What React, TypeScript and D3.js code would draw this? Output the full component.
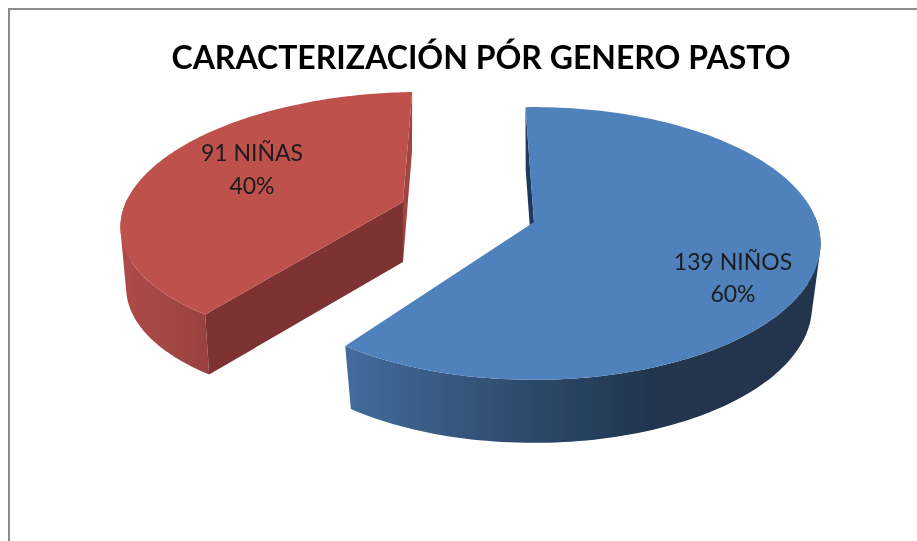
import React from "react";
import * as d3 from "d3";

const categories = ["NIÑOS", "NIÑAS"];
const counts = [139, 91];
const chartTitle = "CARACTERIZACIÓN PÓR GENERO PASTO";

const W = 917;
const H = 541;
const deg = (a: number) => (a * Math.PI) / 180;

type Geo = {
  cx: number; cy: number; rx: number; ry: number; k: number; shear: number;
  depth: number; shrink: number; top: string; cut: string; sliver: string;
  wall: [number, string][]; wallX: [number, number];
  labelX: number; labelY: [number, number];
};

const geometry: Geo[] = [
  {
    cx: 534, cy: 222, rx: 283, ry: 133, k: 0.1575, shear: 0, depth: 63, shrink: 0.97,
    top: "#4f81bd", cut: "#1f3a5c", sliver: "#1f3a5c",
    wall: [[0, "#426b9c"], [0.6, "#2c4868"], [1, "#20344e"]], wallX: [350, 660],
    labelX: 733, labelY: [270, 302],
  },
  {
    cx: 403, cy: 202, rx: 277, ry: 124, k: 0.127, shear: 20, depth: 60, shrink: 0.98,
    top: "#bf514e", cut: "#7e3230", sliver: "#a04543",
    wall: [[0, "#ad4b48"], [1, "#984240"]], wallX: [125, 208],
    labelX: 252, labelY: [161, 194],
  },
];

const pieGen = d3
  .pie<number>()
  .sort(null)
  .startAngle(deg(-2))
  .endAngle(deg(358));

function project(g: Geo, a: number, bottom: boolean): [number, number] {
  const X = Math.sin(a);
  const Y = Math.cos(a);
  const w = 1 + g.k * Y;
  const s = bottom ? g.shrink : 1;
  return [
    g.cx + (s * (g.rx * X + g.shear * Y)) / w,
    g.cy - (g.ry * Y) / w + (bottom ? g.depth : 0),
  ];
}

const line = d3.line<[number, number]>().x((d) => d[0]).y((d) => d[1]);

export default function App() {
  const arcs = pieGen(counts);
  const total = d3.sum(counts);
  const pct = d3.format(".0%");

  const slices = arcs.map((arc, i) => {
    const g = geometry[i];
    const toAngle = d3.scaleLinear().domain([0, 160]).range([arc.startAngle, arc.endAngle]);
    const angles = d3.range(0, 161).map((t) => toAngle(t));
    const topArc = angles.map((a) => project(g, a, false));
    const botArc = angles.map((a) => project(g, a, true));
    const topApex: [number, number] = [g.cx, g.cy];
    const botApex: [number, number] = [g.cx, g.cy + g.depth];
    const face = (a: number) => [
      topApex,
      project(g, a, false),
      project(g, a, true),
      botApex,
    ] as [number, number][];
    // Front half of the rim only: the wall is a union of small quads, so its
    // silhouette follows the tangent between the top rim and the bottom rim.
    const wall = d3
      .range(0, angles.length - 1)
      .filter((j) => Math.cos(angles[j]) < 0.02 || Math.cos(angles[j + 1]) < 0.02)
      .map((j) => {
        const q: [number, number][] = [topArc[j], topArc[j + 1], botArc[j + 1], botArc[j]];
        const area = d3.polygonArea(q);
        return line(area >= 0 ? q : q.slice().reverse())! + "Z";
      })
      .join("");
    return {
      i, g,
      top: line([topApex, ...topArc])! + "Z",
      wall,
      startFace: line(face(arc.startAngle))! + "Z",
      endFace: line(face(arc.endAngle))! + "Z",
      lines: [`${counts[i]} ${categories[i]}`, pct(counts[i] / total)],
    };
  });

  const font = "Lato, 'Open Sans', sans-serif";

  return (
    <svg
      width={W}
      height={H}
      style={{ position: "absolute", left: 0, top: 0, background: "#fff" }}
    >
      <defs>
        <filter id="soft" x="-5%" y="-5%" width="110%" height="110%">
          <feGaussianBlur stdDeviation="0.45" />
        </filter>
        {slices.map((s) => (
          <linearGradient
            key={s.i}
            id={`wall${s.i}`}
            gradientUnits="userSpaceOnUse"
            x1={s.g.wallX[0]}
            x2={s.g.wallX[1]}
            y1={0}
            y2={0}
          >
            {s.g.wall.map(([o, c]) => (
              <stop key={o} offset={o} stopColor={c} />
            ))}
          </linearGradient>
        ))}
      </defs>

      <path d="M9,541V9H917" fill="none" stroke="#8c8c8c" strokeWidth={2} />

      <g filter="url(#soft)">
        {/* back-to-front: red slice first, then blue */}
        {[slices[1], slices[0]].map((s) => (
          <g key={s.i}>
            {s.i === 1 && <path d={s.endFace} fill={s.g.sliver} />}
            {s.i === 0 && <path d={s.startFace} fill={s.g.sliver} />}
            <path d={s.wall} fill={`url(#wall${s.i})`} />
            {s.i === 1 && <path d={s.startFace} fill={s.g.cut} />}
            <path d={s.top} fill={s.g.top} />
          </g>
        ))}

        <text
          x={481}
          y={69}
          textAnchor="middle"
          fontFamily={font}
          fontSize={32}
          fontWeight={700}
          fill="#000"
        >
          {chartTitle}
        </text>

        {slices.map((s) =>
          s.lines.map((t, j) => (
            <text
              key={`${s.i}-${j}`}
              x={s.g.labelX}
              y={s.g.labelY[j]}
              textAnchor="middle"
              fontFamily={font}
              fontSize={23}
              fill="#1c1c1c"
            >
              {t}
            </text>
          ))
        )}
      </g>
    </svg>
  );
}
